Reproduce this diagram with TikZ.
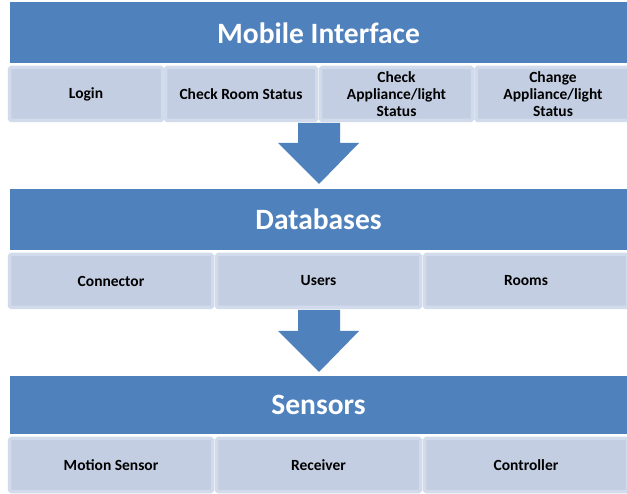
\documentclass[tikz,border=0pt]{standalone}
\usepackage{fontspec}
\setmainfont{Carlito}
\definecolor{hdr}{HTML}{4F81BD}
\definecolor{cell}{HTML}{C3CEE2}
\definecolor{cellrim}{HTML}{D2DBEB}
\begin{document}
\begin{tikzpicture}[x=1pt,y=1pt,
  header/.style={fill=hdr, inner sep=0pt, text=white, font=\fontsize{29.5}{33}\selectfont\bfseries},
  cellbox/.style={fill=cell, draw=cellrim, line width=3.5pt, rounded corners=1.5pt, inner sep=0pt,
     font=\fontsize{15.5}{17}\selectfont\bfseries, align=center},
  blockarrow/.style={fill=hdr}]
\useasboundingbox (0,0) rectangle (627,-494);
% tier 1
\node[header, minimum width=617pt, minimum height=61pt] (h1) at (318.5,-33) {Mobile Interface};
\node[cellbox, minimum width=153pt, minimum height=53pt] (a1) at (86,-94) {Login};
\node[cellbox, minimum width=151pt, minimum height=53pt] (a2) at (241,-94) {Check Room Status};
\node[cellbox, minimum width=152pt, minimum height=53pt] (a3) at (396.5,-94) {Check\\Appliance/light\\Status};
\node[cellbox, minimum width=154pt, minimum height=53pt] (a4) at (553,-94) {Change\\Appliance/light\\Status};
% arrow 1
\fill[blockarrow] (298,-123) -- (340,-123) -- (340,-143) -- (359,-143) -- (319,-184) -- (278,-143) -- (298,-143) -- cycle;
% tier 2
\node[header, minimum width=617pt, minimum height=61pt] (h2) at (318.5,-219.5) {Databases};
\node[cellbox, minimum width=203pt, minimum height=53pt] (b1) at (111,-281) {Connector};
\node[cellbox, minimum width=204pt, minimum height=53pt] (b2) at (318.5,-281) {Users};
\node[cellbox, minimum width=203pt, minimum height=53pt] (b3) at (526,-281) {Rooms};
% arrow 2
\fill[blockarrow] (298,-310) -- (340,-310) -- (340,-331) -- (359,-331) -- (319,-372) -- (278,-331) -- (298,-331) -- cycle;
% tier 3
\node[header, minimum width=617pt, minimum height=58pt] (h3) at (318.5,-405) {Sensors};
\node[cellbox, minimum width=203pt, minimum height=53pt] (c1) at (111,-465) {Motion Sensor};
\node[cellbox, minimum width=204pt, minimum height=53pt] (c2) at (318.5,-465) {Receiver};
\node[cellbox, minimum width=203pt, minimum height=53pt] (c3) at (526,-465) {Controller};
\end{tikzpicture}
\end{document}
